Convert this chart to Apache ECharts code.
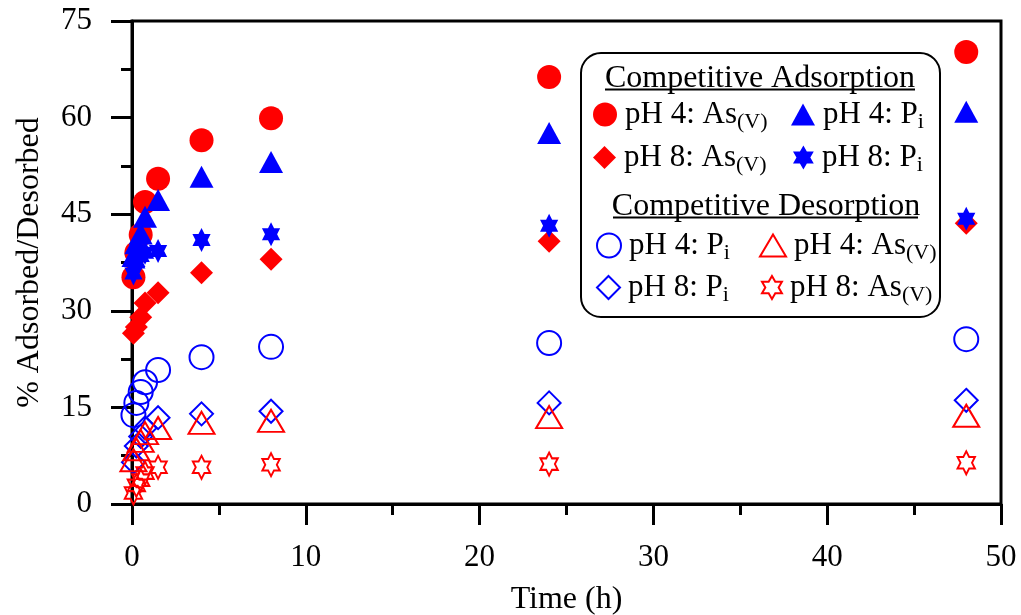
<!DOCTYPE html>
<html><head><meta charset="utf-8">
<script src="https://cdn.jsdelivr.net/npm/echarts@6/dist/echarts.min.js"></script>
<style>html,body{margin:0;padding:0;background:#fff}#c{width:1021px;height:615px}</style>
</head><body><div id="c"></div>
<script>
// ---- data ----
const times = [0.083, 0.25, 0.5, 0.75, 1.5, 4, 8, 24, 48];
const adsAsPH4 = [35.2, 39.0, 41.8, 46.9, 50.5, 56.5, 59.9, 66.3, 70.2];
const adsPiPH4 = [38.5, 40.5, 42.0, 44.6, 47.2, 50.8, 53.1, 57.6, 60.9];
const adsAsPH8 = [26.5, 27.5, 29.0, 31.2, 32.8, 35.9, 38.0, 40.8, 43.6];
const adsPiPH8 = [35.8, 37.5, 38.5, 39.0, 39.3, 41.0, 41.9, 43.2, 44.3];
const desPiPH4 = [13.8, 15.7, 17.4, 18.9, 20.8, 22.8, 24.4, 25.0, 25.6];
const desPiPH8 = [6.5, 9.0, 10.5, 11.8, 13.4, 14.0, 14.4, 15.7, 16.1];
const desAsPH4 = [6.8, 8.5, 9.8, 11.0, 11.8, 12.6, 12.9, 13.5, 13.7];
const desAsPH8 = [1.7, 2.9, 3.7, 4.8, 5.7, 5.7, 6.1, 6.2, 6.4];
const xTicks = [0, 10, 20, 30, 40, 50];
const yTicks = [0, 15, 30, 45, 60, 75];

// ---- styling ----
const FONT = '"Liberation Serif", "Times New Roman", serif';
const RED = '#ff0000', BLUE = '#0000ff';
const STAR = 'path://M100,0 L128.87,50 L186.6,50 L157.74,100 L186.6,150 L128.87,150 L100,200 L71.13,150 L13.4,150 L42.26,100 L13.4,50 L71.13,50 Z';

const defs = [
  {name:'ads-As-4', main:'pH 4: As', sub:'(V)', vals:adsAsPH4, symbol:'circle', size:[24,24], color:RED, filled:true, lg:[593,99]},
  {name:'ads-Pi-4', main:'pH 4: P', sub:'i', vals:adsPiPH4, symbol:'triangle', size:[24,22], color:BLUE, filled:true, lg:[791,99]},
  {name:'ads-As-8', main:'pH 8: As', sub:'(V)', vals:adsAsPH8, symbol:'diamond', size:[23,23], color:RED, filled:true, lg:[593,142]},
  {name:'ads-Pi-8', main:'pH 8: P', sub:'i', vals:adsPiPH8, symbol:STAR, size:[21,24], color:BLUE, filled:true, lg:[793,142]},
  {name:'des-Pi-4', main:'pH 4: P', sub:'i', vals:desPiPH4, symbol:'circle', size:[24,24], color:BLUE, filled:false, lg:[596,230]},
  {name:'des-Pi-8', main:'pH 8: P', sub:'i', vals:desPiPH8, symbol:'diamond', size:[23,23], color:BLUE, filled:false, lg:[596,272]},
  {name:'des-As-4', main:'pH 4: As', sub:'(V)', vals:desAsPH4, symbol:'triangle', size:[26,22], color:RED, filled:false, lg:[759,230]},
  {name:'des-As-8', main:'pH 8: As', sub:'(V)', vals:desAsPH8, symbol:STAR, size:[20,23], color:RED, filled:false, lg:[761,272]}
];

const series = defs.map(d => ({
  name: d.name,
  type: 'scatter',
  data: times.map((t, i) => [t, d.vals[i]]),
  symbol: d.symbol,
  symbolSize: d.size,
  symbolKeepAspect: true,
  itemStyle: d.filled ? {color: d.color, borderWidth: 0, opacity: 1}
                      : {color: 'rgba(0,0,0,0)', borderColor: d.color, borderWidth: 2, opacity: 1},
  emphasis: {disabled: true},
  silent: true
}));

const rich = {
  n: {fontFamily: FONT, fontSize: 31, lineHeight: 31, color: '#000', verticalAlign: 'top', padding: [0, 0, 0, 3]},
  s: {fontFamily: FONT, fontSize: 22, lineHeight: 22, color: '#000', verticalAlign: 'top', padding: [12, 0, 0, 0]}
};

const legends = defs.map(d => ({
  z: 20,
  data: [{name: d.name, icon: d.symbol}],
  left: d.lg[0], top: d.lg[1],
  orient: 'horizontal',
  padding: 0, itemGap: 0,
  itemWidth: d.size[0], itemHeight: d.size[1],
  selectedMode: false,
  formatter: () => '{n|' + d.main + '}{s|' + d.sub + '}',
  textStyle: {rich: rich}
}));

const axisCommon = {
  axisLine: {show: true, onZero: false, lineStyle: {color: '#000', width: 3}},
  axisTick: {show: true, inside: false, length: 21, lineStyle: {color: '#000', width: 3}},
  minorTick: {show: true, splitNumber: 2, length: 11, lineStyle: {color: '#000', width: 3}},
  splitLine: {show: false},
  nameTextStyle: {fontFamily: FONT, fontSize: 32, color: '#000'}
};

const option = {
  animation: false,
  backgroundColor: '#fff',
  grid: {left: 132, right: 20, top: 21, bottom: 111, show: true, borderColor: '#000', borderWidth: 3,
         containLabel: false, outerBoundsMode: 'none'},
  xAxis: Object.assign({}, axisCommon, {
    type: 'value', min: xTicks[0], max: xTicks[xTicks.length - 1], interval: 10,
    name: 'Time (h)', nameLocation: 'middle', nameGap: 80,
    axisLabel: {fontFamily: FONT, fontSize: 31, color: '#000', margin: 38,
      formatter: v => xTicks.includes(v) ? String(v) : ''}
  }),
  yAxis: Object.assign({}, axisCommon, {
    type: 'value', min: yTicks[0], max: yTicks[yTicks.length - 1], interval: 15,
    name: '% Adsorbed/Desorbed', nameLocation: 'middle', nameGap: 86,
    axisLabel: {fontFamily: FONT, fontSize: 31, color: '#000', margin: 40,
      formatter: v => yTicks.includes(v) ? String(v) : ''}
  }),
  legend: legends,
  graphic: [
    {type: 'rect', z: 10, shape: {x: 581, y: 53, width: 359, height: 264, r: 20},
     style: {fill: '#fff', stroke: '#000', lineWidth: 2}},
    {type: 'text', z: 11, style: {text: 'Competitive Adsorption', x: 760, y: 79, font: '32px ' + FONT,
      fill: '#000', textAlign: 'center', textVerticalAlign: 'middle', align: 'center', verticalAlign: 'middle'}},
    {type: 'line', z: 11, shape: {x1: 605, y1: 89.5, x2: 915, y2: 89.5}, style: {stroke: '#000', lineWidth: 2}},
    {type: 'text', z: 11, style: {text: 'Competitive Desorption', x: 766, y: 207, font: '32px ' + FONT,
      fill: '#000', textAlign: 'center', textVerticalAlign: 'middle', align: 'center', verticalAlign: 'middle'}},
    {type: 'line', z: 11, shape: {x1: 613, y1: 217.5, x2: 918, y2: 217.5}, style: {stroke: '#000', lineWidth: 2}}
  ],
  series: series
};

const chart = echarts.init(document.getElementById('c'), null, {renderer: 'canvas'});
chart.setOption(option);
</script>
</body></html>
